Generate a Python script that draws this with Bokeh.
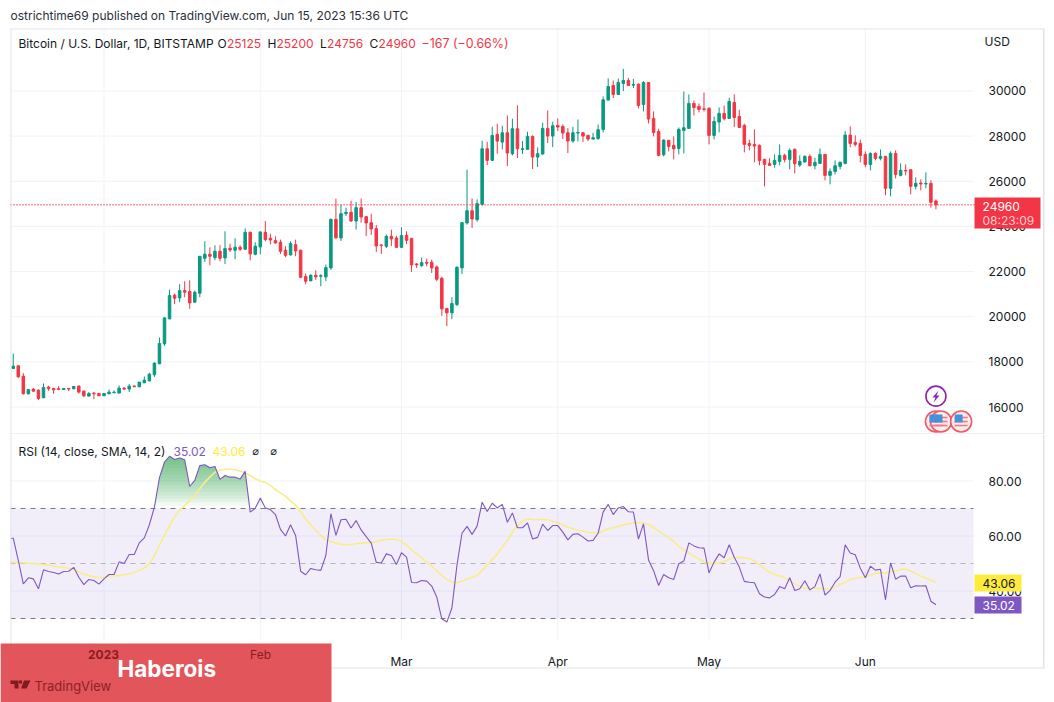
import numpy as np
import pandas as pd
from bokeh.embed import file_html
from bokeh.layouts import column
from bokeh.models import (BoxAnnotation, ColumnDataSource, FixedTicker, Label, LinearAxis,
                          NumeralTickFormatter, PolyAnnotation, Range1d)
from bokeh.plotting import figure
from bokeh.resources import INLINE

first_day = "2022-12-14"
open_prices = [
    17706,17824,17367,16585,16792,16747,16408,16880,16821,16807,
    16777,16821,16807,16925,16703,16482,16615,16600,16497,16585,
    16630,16615,16836,16792,16925,16895,17072,17160,17426,17913,
    18798,19904,20951,20833,21158,21114,20642,21040,22589,22766,
    22618,22898,22603,23031,22942,23075,22987,23739,22766,23090,
    23739,23474,23370,23297,22943,22736,23193,22943,21777,21586,
    21836,21792,21763,22161,24314,23488,24565,24624,24240,24830,
    24432,24167,23901,23179,23120,23562,23488,23075,23606,23474,
    22338,22264,22412,22412,22205,21703,20361,20170,20538,22161,
    24152,24698,24300,24978,27441,26925,28076,27736,28149,27220,
    28326,27412,27412,27987,27073,27205,28341,28002,28474,28430,
    28149,27781,28135,28149,28031,27869,27899,28297,29595,30244,
    29846,30332,30465,30259,30303,29403,30377,28784,28208,27176,
    27810,27589,27456,28253,28341,29447,29315,29211,29226,28031,
    28621,29005,28784,29492,28872,28474,27677,27633,27589,26969,
    26792,26748,26881,27146,26969,27412,26719,26851,27102,26689,
    26792,27190,26261,26438,26660,26792,28046,27722,27677,27190,
    26748,27235,27014,27102,25686,27235,26261,26483,26512,25775,
    25922,25878,25907,25125]
high_prices = [
    18370,17854,17500,16790,16836,16777,17043,16939,16851,16925,
    16830,16830,16910,16954,16733,16659,16659,16610,16610,16777,
    16733,16954,16880,17013,16969,17110,17352,17514,17986,19078,
    19978,21202,21025,21438,21571,21615,21158,22690,23341,23075,
    23164,23164,23783,23238,23474,23164,23916,23768,23297,23783,
    24241,23680,23562,23415,23120,23341,23415,22972,21910,21880,
    22058,21880,22308,24344,25229,24963,24830,25140,25081,25229,
    24432,24565,24064,23208,23636,23857,23592,23960,23783,23474,
    22367,22618,22574,22529,22264,21777,20391,20863,22235,24180,
    26512,25244,25199,27795,27751,28415,28548,28459,28916,28769,
    29359,27781,28194,28031,27500,28592,29138,28636,28784,28518,
    28356,28415,28739,28160,28061,28149,28518,29757,30554,30465,
    30554,30981,30583,30539,30332,30436,30390,29093,28326,27854,
    27840,27987,28385,29978,29846,29580,29447,29934,29285,28872,
    29270,29359,29698,29846,29167,28548,27840,28297,27633,26999,
    27014,27190,27633,27220,27456,27456,27146,27146,27190,27043,
    27456,27200,26571,26925,26881,28223,28430,28031,27854,27323,
    27279,27279,27412,27110,27323,27368,26792,26748,26520,26173,
    26084,26394,26040,25200]
low_prices = [
    17677,17293,16560,16560,16674,16305,16400,16718,16585,16747,
    16760,16703,16790,16600,16438,16470,16349,16490,16490,16556,
    16630,16615,16747,16659,16895,16880,17060,17131,17337,17900,
    18709,19890,20553,20642,20863,20347,20630,20863,22426,22279,
    22500,22456,22338,22869,22544,22913,22980,22500,22721,22766,
    23341,23208,23238,22780,22633,22721,22677,21704,21438,21586,
    21630,21350,21571,22072,23488,23355,24462,24196,23857,24167,
    23577,23621,22869,22780,23046,23134,23046,23046,23223,21984,
    22161,22205,22235,21940,21571,20037,19580,19889,20465,21895,
    24078,23931,24211,24919,26719,26896,27220,27412,26674,27146,
    27028,27205,27400,26542,26630,27190,27692,27515,28223,27869,
    27250,27707,27766,27736,27781,27860,27825,28164,29580,29683,
    29830,29993,30230,30126,29226,29093,28562,27987,27102,27102,
    27323,26969,27190,27235,28330,28916,29049,29093,27633,27854,
    28164,28695,28770,28400,28370,27279,27368,26837,26704,25775,
    26690,26600,26704,26837,26527,26350,26630,26837,26660,26527,
    26780,26040,25863,26305,26527,26748,27500,27545,26837,26615,
    26483,26925,26925,25376,25332,26129,26217,26261,25421,25642,
    25598,25686,24830,24756]
close_prices = [
    17809,17337,16585,16777,16703,16379,16866,16807,16762,16777,
    16821,16792,16910,16659,16497,16600,16585,16497,16600,16659,
    16659,16836,16792,16925,16895,17102,17190,17455,17942,18813,
    19948,20936,20819,21158,21084,20612,21084,22677,22766,22677,
    22898,22589,23016,22957,23075,22987,23739,22780,23120,23754,
    23415,23400,23267,22898,22721,23238,22913,21748,21571,21836,
    21763,21822,22176,24314,23488,24565,24624,24240,24830,24418,
    24152,23887,23134,23149,23562,23444,23075,23592,23385,22294,
    22294,22397,22367,22161,21659,20347,20170,20583,22190,24167,
    24698,24329,25008,27441,26925,28031,27781,28149,27250,28326,
    27441,27441,27987,27073,27220,28341,28002,28459,28400,28135,
    27781,28149,28164,28002,27869,27928,28282,29610,30200,29846,
    30377,30465,30244,30288,29359,30377,28754,28164,27146,27825,
    27545,27441,28297,28371,29447,29270,29182,29182,28031,28651,
    29005,28769,29536,28828,28385,27633,27589,27559,26925,26748,
    26704,26925,27146,26969,27368,26778,26881,27102,26689,26837,
    27190,26261,26438,26689,26837,28046,27677,27633,27146,26748,
    27235,27014,27102,25686,27235,26306,26483,26453,25775,25907,
    25878,25907,25067,24960]
rsi_values = [
    59.2,51.1,42.6,44.8,44.4,40.8,47.7,47.1,46.7,46.2,
    47.1,47.2,48.6,45.0,42.3,44.2,43.8,42.5,44.4,46.0,
    46.0,50.6,50.0,53.3,53.3,57.5,59.3,64.1,70.5,81.2,
    86.9,89.0,87.8,88.4,87.7,78.0,80.2,85.6,85.9,84.8,
    85.3,80.6,82.0,81.4,81.4,80.7,83.5,68.7,70.1,73.8,
    70.2,69.6,67.8,62.4,60.0,64.1,60.2,47.2,45.9,48.2,
    47.7,47.5,52.9,68.1,60.2,65.9,66.1,62.9,65.6,62.2,
    59.8,57.4,50.4,50.2,53.5,52.9,49.6,53.9,52.3,43.1,
    43.0,43.8,43.6,41.8,37.8,29.9,28.7,33.8,49.3,61.0,
    63.5,60.6,63.6,72.3,68.9,71.9,70.2,71.5,65.0,68.4,
    63.0,63.0,64.8,58.9,59.5,64.3,62.0,63.8,63.8,61.4,
    58.6,60.6,60.8,59.6,58.2,58.4,61.0,68.7,71.5,67.8,
    70.2,70.7,68.8,68.7,58.9,64.4,51.3,47.4,42.0,46.0,
    44.8,44.2,49.9,50.9,57.5,56.4,55.7,55.6,46.6,50.5,
    53.5,52.1,56.8,52.3,48.7,43.5,43.2,43.0,39.0,37.8,
    37.5,38.7,41.6,40.8,44.8,40.2,40.8,43.7,40.4,41.6,
    46.2,38.5,40.2,43.2,45.2,56.8,53.8,53.2,48.3,44.8,
    49.0,47.6,47.9,36.8,50.2,44.3,45.4,45.4,41.2,41.9,
    41.8,41.9,36.3,35.02]
rsi_sma_values = [
    50.4,50.4,50.3,50.1,49.9,49.8,49.6,49.4,49.0,48.8,
    48.6,48.2,47.7,46.9,46.1,45.6,45.2,44.9,45.0,45.5,
    45.6,45.6,45.9,46.3,46.7,47.5,48.3,49.9,52.9,56.6,
    60.2,63.8,66.9,69.3,71.1,72.9,74.7,77.2,79.6,81.4,
    83.2,84.0,84.3,84.3,84.1,83.6,83.0,82.0,80.8,80.0,
    79.5,78.4,76.9,75.7,74.5,72.7,71.3,68.9,66.2,64.1,
    62.0,60.2,58.6,58.0,57.4,57.0,56.8,56.9,57.2,57.4,
    57.5,57.6,58.0,58.4,58.7,58.9,58.7,58.1,56.6,55.0,
    53.5,52.0,50.5,49.0,47.3,45.6,44.2,43.2,43.0,43.6,
    44.4,45.0,45.6,47.5,49.3,51.5,53.5,56.0,58.4,61.4,
    63.8,65.4,66.2,66.0,65.9,66.0,65.9,65.4,64.8,64.1,
    63.2,62.6,62.1,61.8,61.3,61.2,61.0,61.8,62.6,63.0,
    63.5,64.1,64.4,64.8,64.9,64.8,64.1,63.0,61.8,60.6,
    59.3,58.1,56.2,55.0,53.8,52.7,51.6,50.7,50.1,49.9,
    50.2,50.7,51.6,52.2,52.3,52.2,51.7,51.0,49.6,48.1,
    46.8,46.0,45.5,44.9,43.8,42.6,41.7,41.1,41.0,41.0,
    40.9,40.8,40.9,41.4,42.4,43.2,44.1,44.7,44.9,45.0,
    45.8,46.4,46.6,46.6,47.0,47.3,47.8,48.0,47.3,46.4,
    45.4,44.7,43.9,43.06]
price_ticks = [16000, 18000, 20000, 22000, 24000, 26000, 28000, 30000]
rsi_ticks = [40, 60, 80]
rsi_levels = [30, 50, 70]
month_ticks = ["2023-01-01", "2023-02-01", "2023-03-01", "2023-04-01", "2023-05-01", "2023-06-01"]
month_labels = ["", "", "Mar", "Apr", "May", "Jun"]
last_price = 24960
bolt_event = ("2023-06-15", 16480)
flag_events = (["2023-06-15", "2023-06-16", "2023-06-20"], 15358)

UP, DOWN = "#089981", "#F23645"
GRID, BORDER, INK = "#F0F3FA", "#E0E3EB", "#131722"
PURPLE, YELLOW = "#7E57C2", "#FFEB3B"
FONT = "Inter"
DAY = 86400000.0
LEVEL = "annotation"
to_ms = lambda d: pd.Timestamp(d).value / 1e6

assert all(len(a) == 184 for a in (open_prices, high_prices, low_prices, close_prices, rsi_values, rsi_sma_values))

JAN1 = to_ms("2023-01-01")
PX = DAY / 5.042          # ms per pixel
price_per_px = 44.3
rsi_per_px = 1 / 2.75
xpx = lambda px: JAN1 + (px - 103.5) * PX      # page pixel -> time
ypx = lambda py: 16000 + (406.5 - py) * price_per_px      # page pixel -> price
rpx = lambda py: 80 - (py - 480.5) * rsi_per_px           # page pixel -> RSI

xs = to_ms(first_day) + np.arange(184) * DAY
x_range = Range1d(xpx(0), xpx(1054))
PANE_L, PANE_R = xpx(10), xpx(973)
ticks_ms = [to_ms(d) for d in month_ticks]


def text(fig, x, y, s, color=INK, size=12.0, bold=False, align="left", font=FONT):
    fig.add_layout(Label(x=x, y=y, x_units="canvas", y_units="canvas", text=s, text_color=color,
                         text_font=font, text_font_size=f"{size}px", text_align=align,
                         text_baseline="middle", text_font_style="bold" if bold else "normal",
                         level=LEVEL))


def box(fig, l, r, t, b, color, alpha=1.0):
    fig.add_layout(BoxAnnotation(left=l, right=r, top=t, bottom=b, left_units="canvas",
                                 right_units="canvas", top_units="canvas", bottom_units="canvas",
                                 fill_color=color, fill_alpha=alpha, line_alpha=0, level=LEVEL))


def poly(fig, pts, color):
    fig.add_layout(PolyAnnotation(xs=[p[0] for p in pts], ys=[p[1] for p in pts], xs_units="canvas",
                                  ys_units="canvas", fill_color=color, fill_alpha=1, line_alpha=0,
                                  level=LEVEL))


def base_fig(h, yr, ygrid_ticks, y_bottom, y_top):
    f = figure(width=1054, height=h, x_range=x_range, y_range=yr, x_axis_type=None, y_axis_type=None,
               output_backend="svg", toolbar_location=None,
               min_border_left=0, min_border_right=0, min_border_top=0, min_border_bottom=0,
               outline_line_color=None, background_fill_color="white", border_fill_color="white")
    # grid lines stop at the pane edges, which a frame-wide Grid cannot do here
    f.segment(ticks_ms, [y_bottom] * len(ticks_ms), ticks_ms, [y_top] * len(ticks_ms),
              line_color=GRID, line_width=1)
    f.segment([PANE_L] * len(ygrid_ticks), ygrid_ticks, [PANE_R] * len(ygrid_ticks), ygrid_ticks,
              line_color=GRID, line_width=1)
    return f


def value_axis(fig, ticks, fmt=None):
    ax = LinearAxis(fixed_location=xpx(974), ticker=FixedTicker(ticks=ticks))
    ax.axis_line_color = None
    ax.major_tick_line_color = None
    ax.minor_tick_line_color = None
    ax.major_label_text_font = FONT
    ax.major_label_text_font_size = "12px"
    ax.major_label_text_color = INK
    ax.major_label_standoff = 8
    if fmt:
        ax.formatter = NumeralTickFormatter(format=fmt)
    fig.add_layout(ax, "right")


# ---- price pane ----
top = base_fig(434, Range1d(ypx(434), ypx(0)), price_ticks, ypx(434), ypx(28))
value_axis(top, price_ticks)
colors = [UP if c >= o else DOWN for o, c in zip(open_prices, close_prices)]
src = ColumnDataSource(dict(x=xs, o=open_prices, h=high_prices, l=low_prices, c=close_prices,
                            t=np.maximum(open_prices, close_prices),
                            b=np.minimum(open_prices, close_prices), color=colors))
top.segment("x", "h", "x", "l", source=src, line_color="color", line_width=1)
top.vbar(x="x", top="t", bottom="b", width=0.5 * DAY, source=src, fill_color="color", line_color="color", line_width=1)
top.line([PANE_L, xpx(974)], [last_price, last_price], line_color=DOWN, line_dash=[1, 2], line_width=1.3)

# event markers
fy = flag_events[1]
fx = np.array([to_ms(d) for d in flag_events[0]])
top.scatter(fx, [fy] * 3, marker="circle", size=21, fill_color="#fdecec", line_color="#EE5A68", line_width=1.6)
for off in (-4, 0, 4):
    top.scatter(fx, [fy + off * price_per_px] * 3, marker="dash", size=13, line_color="#EE7A85", line_width=1.6)
top.scatter(fx - 2.5 * PX, [fy + 3 * price_per_px] * 3, marker="square", size=8, fill_color="#4A90D9", line_color=None)
top.scatter([to_ms(bolt_event[0])], [bolt_event[1]], marker="circle", size=20, fill_color="white",
            line_color="#8E24AA", line_width=1.6)
poly(top, [(938, 390), (932, 397), (935, 397), (933, 402), (939, 395), (936, 395)], "#8E24AA")

# page texts and furniture of the top pane
text(top, 10, 15, "ostrichtime69 published on TradingView.com, Jun 15, 2023 15:36 UTC", "#2A2E39", 12)
box(top, 10, 1044, 29, 28, BORDER)
box(top, 10, 11, 434, 28, BORDER)
box(top, 1042.5, 1044, 434, 28, BORDER)
box(top, 10, 1044, 434, 433, BORDER)
text(top, 18, 43, "Bitcoin / U.S. Dollar, 1D, BITSTAMP")
for x, s, c in [(217, "O", INK), (226.5, "25125", DOWN), (267, "H", INK), (276, "25200", DOWN),
                (319.5, "L", INK), (326.5, "24756", DOWN), (369, "C", INK), (378, "24960", DOWN),
                (421, "\u2212167 (\u22120.66%)", DOWN)]:
    text(top, x, 43, s, c, 12.4 if s.startswith("\u2212") else 12.0)
text(top, 984, 41, "USD")
box(top, 974, 1040, 228, 197, DOWN)
text(top, 982, 205.5, "24960", "white")
text(top, 982, 220, "08:23:09", "#FFC9CE")

# ---- RSI pane (figure starts at page y 434) ----
bot = base_fig(268, Range1d(rpx(702), rpx(434)), rsi_ticks, rpx(640), rpx(434))
value_axis(bot, rsi_ticks, "0.00")
ax = LinearAxis(fixed_location=rpx(640), ticker=FixedTicker(ticks=ticks_ms))
ax.major_label_overrides = {t: s for t, s in zip(ticks_ms, month_labels)}
ax.axis_line_color = None
ax.major_tick_line_color = None
ax.minor_tick_line_color = None
ax.major_label_text_font = FONT
ax.major_label_text_font_size = "12px"
ax.major_label_text_color = INK
ax.major_label_standoff = 7
bot.add_layout(ax, "below")

bot.quad(left=[PANE_L], right=[PANE_R], bottom=[rsi_levels[0]], top=[rsi_levels[2]], fill_color=PURPLE,
         fill_alpha=0.1, line_alpha=0)
for lvl, alpha in zip(rsi_levels, (1.0, 0.5, 1.0)):
    bot.line([PANE_L, PANE_R], [lvl, lvl], line_color="#787B86", line_alpha=alpha, line_dash=[5, 5], line_width=1)

line_x = np.r_[PANE_L, xs]
line_rsi = np.r_[rsi_values[0], rsi_values]
line_sma = np.r_[rsi_sma_values[0], rsi_sma_values]
dense_x = np.arange(xs[24], xs[52], DAY / 8)
dense_rsi = np.interp(dense_x, xs, rsi_values)
for lvl in np.arange(71, 90, 1.25):
    bot.varea(dense_x, np.full_like(dense_x, lvl), np.maximum(dense_rsi, lvl),
              fill_color="#3FA650", fill_alpha=0.07)
bot.line(line_x, line_sma, line_color="#F9EC8A", line_width=1.6)
bot.line(line_x, line_rsi, line_color=PURPLE, line_width=1.1)

box(bot, 10, 11, 233, 0, BORDER)
box(bot, 1042.5, 1044, 233, 0, BORDER)
box(bot, 10, 1044, 234, 233, BORDER)
text(bot, 18, 17, "RSI (14, close, SMA, 14, 2)")
text(bot, 173, 17, "35.02", PURPLE)
text(bot, 212, 17, "43.06", YELLOW)
text(bot, 252, 17, "\u2300", INK, 11, font="DejaVu Sans")
text(bot, 270, 17, "\u2300", INK, 11, font="DejaVu Sans")
box(bot, 974, 1021, 157, 140, YELLOW)
text(bot, 982, 149, "43.06", INK)
box(bot, 974, 1021, 179, 162, PURPLE)
text(bot, 982, 171, "35.02", "white")

# banner
box(bot, 0, 331, 268, 209, "#E0484D", 0.92)
text(bot, 103, 219.5, "2023", "#8E1A22", 12, bold=True, align="center")
text(bot, 260, 219.5, "Feb", "#8E1A22", 12, align="center")
text(bot, 117, 234, "Haberois", "white", 22.5, bold=True)
text(bot, 34, 251.5, "TradingView", "#8E1F26", 13)
poly(bot, [(10, 246), (18, 246), (18, 254), (14, 254), (14, 249.5), (10, 249.5)], "#7E1A20")
poly(bot, [(23.5, 246), (30, 246), (26, 254), (20.5, 254)], "#7E1A20")
box(bot, 18.5, 21.5, 249, 246, "#7E1A20")

layout = column(top, bot, spacing=0)
open("out.html", "w").write(file_html(layout, INLINE))
